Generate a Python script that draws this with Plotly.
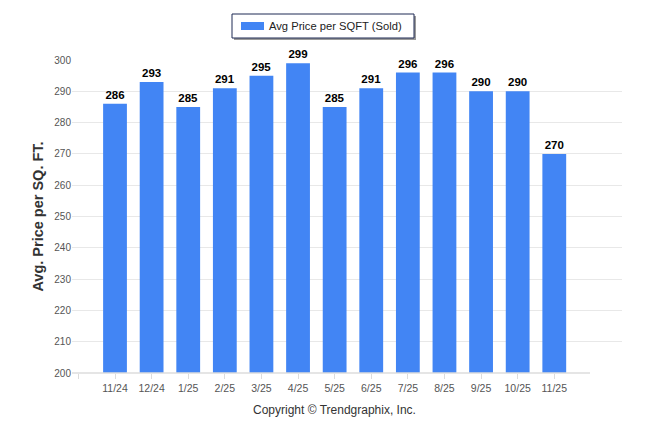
import plotly.graph_objects as go

categories = ["11/24", "12/24", "1/25", "2/25", "3/25", "4/25", "5/25",
              "6/25", "7/25", "8/25", "9/25", "10/25", "11/25"]
values = [286, 293, 285, 291, 295, 299, 285, 291, 296, 296, 290, 290, 270]
series_name = "Avg Price per SQFT (Sold)"
y_ticks = [200, 210, 220, 230, 240, 250, 260, 270, 280, 290, 300]

O = 8  # browser body margin offset
W, H = 646 - O, 434 - O
# target page coordinates of plot area
PL, PR, PT, PB = 72, 622, 60, 373
L, T = PL - O, PT - O
R = W - (PR - O)
B = H - (PB - O)
pw = PR - PL
ph = PB - PT

def fx(px):  # page x -> paper fraction
    return (px - PL) / pw
def fy(py):  # page y -> paper fraction
    return (PB - py) / ph

x_idx = list(range(len(categories)))
fig = go.Figure()
fig.add_trace(go.Bar(
    x=x_idx, y=values, name=series_name, width=0.65,
    marker=dict(color="#4285F4", line=dict(width=0)),
    text=[str(v) for v in values], textposition="outside",
    textfont=dict(family="Liberation Sans, Arial", size=11.5, color="#000000"),
    texttemplate="<b>%{text}</b>", cliponaxis=False, showlegend=False,
))

x0r, x1r = -1.175, 13.85

fig.update_layout(
    width=W, height=H,
    margin=dict(l=L, r=R, t=T, b=B),
    paper_bgcolor="white", plot_bgcolor="white",
    font=dict(family="Liberation Sans, Arial", size=11, color="#555555"),
    showlegend=False,
    xaxis=dict(
        range=[x0r, x1r],
        tickvals=[-1] + x_idx, ticktext=[""] + categories,
        ticks="outside", ticklen=5, tickcolor="#dcdcdc", tickwidth=1,
        showgrid=False, zeroline=False, showline=False,
        tickfont=dict(size=10.5, color="#555555"),
        fixedrange=True,
    ),
    yaxis=dict(
        range=[200, 300], tickvals=y_ticks,
        showgrid=True, gridcolor="#e8e8e8", gridwidth=1,
        zeroline=False, showline=False, ticks="",
        tickfont=dict(size=10, color="#555555"),
        title=dict(text="<b>Avg. Price per SQ. FT.</b>",
                   font=dict(size=14.5, color="#333333"), standoff=7),
    ),
)

# x-axis baseline
fig.add_shape(type="line", xref="paper", yref="paper",
              x0=0, x1=fx(590), y0=0, y1=0,
              line=dict(color="#dcdcdc", width=1.5), layer="above")

# legend (manual, to match wide swatch and shadowed box)
fig.add_shape(type="rect", xref="paper", yref="paper",
              x0=fx(234), x1=fx(416), y0=fy(40), y1=fy(16),
              line=dict(width=0), fillcolor="#9a9a9a", layer="above")
fig.add_shape(type="rect", xref="paper", yref="paper",
              x0=fx(232), x1=fx(414), y0=fy(38), y1=fy(14),
              line=dict(color="#1f2a55", width=1), fillcolor="white", layer="above")
fig.add_shape(type="rect", xref="paper", yref="paper",
              x0=fx(241), x1=fx(264), y0=fy(30), y1=fy(22),
              line=dict(width=0), fillcolor="#4285F4", layer="above")
fig.add_annotation(xref="paper", yref="paper",
                   x=fx(267), y=fy(26),
                   text=series_name, showarrow=False, xanchor="left", yanchor="middle",
                   font=dict(size=11.2, color="#222222"))

fig.add_annotation(xref="paper", yref="paper",
                   x=fx(334), y=fy(410),
                   text="Copyright \u00a9 Trendgraphix, Inc.", showarrow=False,
                   xanchor="center", yanchor="middle",
                   font=dict(size=12, color="#333333"))

fig.write_html("out.html")
